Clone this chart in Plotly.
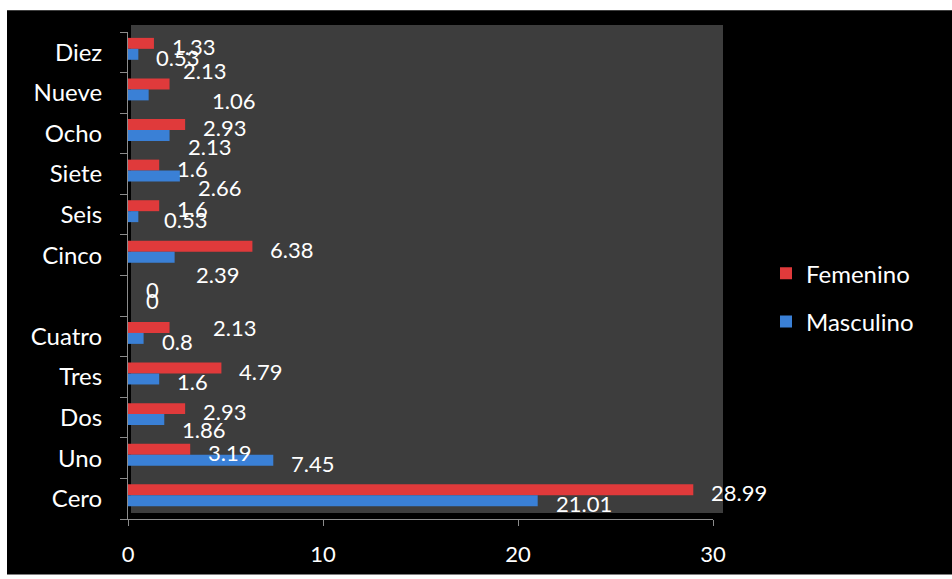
import plotly.graph_objects as go

# Categories listed bottom-to-top (empty slot between Cuatro and Cinco)
categories = ["Cero", "Uno", "Dos", "Tres", "Cuatro", " ", "Cinco",
              "Seis", "Siete", "Ocho", "Nueve", "Diez"]
femenino = [28.99, 3.19, 2.93, 4.79, 2.13, 0, 6.38, 1.6, 1.6, 2.93, 2.13, 1.33]
masculino = [21.01, 7.45, 1.86, 1.6, 0.8, 0, 2.39, 0.53, 2.66, 2.13, 1.06, 0.53]
x_ticks = [0, 10, 20, 30]

RED = "#e03a3b"
BLUE = "#3a80d6"
FONT = "Lato"
WORD_SIZE = 24
NUM_SIZE = 22
W, H = 952, 579
L, R, T, B = 128, 239, 32, 56
PW, PH = W - L - R, H - T - B


def px_x(x):
    return (x - L) / PW


def px_y(y):
    return (H - B - y) / PH


BAR_W = 0.27
series = [
    ("Femenino", femenino, RED, 0.085),
    ("Masculino", masculino, BLUE, -0.185),
]

fig = go.Figure()
for name, vals, color, off in series:
    fig.add_trace(go.Bar(
        name=name, y=categories, x=vals, orientation="h",
        width=BAR_W, offset=off, legendgroup=name,
        marker=dict(color=color, line=dict(width=0)),
    ))

# value labels sit just right of each bar end; a few are nudged aside
nudge = {
    ("Femenino", "Nueve"): (-5, 16),
    ("Masculino", "Nueve"): (45, -3),
    ("Masculino", "Ocho"): (0, -8),
    ("Masculino", "Siete"): (0, -8),
    ("Masculino", "Seis"): (8, 0),
    ("Masculino", "Cinco"): (3, -14),
    ("Femenino", "Cuatro"): (25, 3),
    ("Masculino", "Dos"): (0, -7),
}
annotations = []
for name, vals, color, off in series:
    for i, (cat, v) in enumerate(zip(categories, vals)):
        dx, dy = nudge.get((name, cat), (0, 0))
        annotations.append(dict(
            x=v, y=i + off + BAR_W / 2, xref="x", yref="y",
            text=f"{v:g}", showarrow=False, xanchor="left", yanchor="middle",
            xshift=16 + dx, yshift=-3 + dy,
            font=dict(family=FONT, size=NUM_SIZE, color="white"),
        ))

shapes = [
    # black chart area
    dict(type="rect", xref="paper", yref="paper", layer="below",
         x0=px_x(7), x1=px_x(W), y0=px_y(H), y1=px_y(10),
         fillcolor="black", line=dict(width=0)),
    # grey back wall
    dict(type="rect", xref="paper", yref="paper", layer="below",
         x0=px_x(131), x1=px_x(723), y0=px_y(517), y1=px_y(25),
         fillcolor="#3d3d3d", line=dict(width=0)),
]

fig.update_layout(
    width=W, height=H,
    margin=dict(l=L, r=R, t=T, b=B, pad=0),
    paper_bgcolor="white", plot_bgcolor="rgba(0,0,0,0)",
    barmode="overlay",
    font=dict(family=FONT, size=WORD_SIZE, color="white"),
    showlegend=True,
    legend=dict(
        x=px_x(766), y=px_y(253), xanchor="left", yanchor="top",
        traceorder="grouped", tracegroupgap=14,
        bgcolor="rgba(0,0,0,0)",
        font=dict(family=FONT, size=WORD_SIZE, color="white"),
    ),
    xaxis=dict(
        range=[0, 30], tickvals=x_ticks, showgrid=False, zeroline=False,
        showline=True, linecolor="#8c8c8c", linewidth=1,
        ticks="outside", ticklen=6, tickcolor="#8c8c8c",
        ticklabelstandoff=10,
        tickfont=dict(family=FONT, size=NUM_SIZE, color="white"),
    ),
    yaxis=dict(
        type="category", categoryorder="array", categoryarray=categories,
        range=[-0.5, len(categories) - 0.5],
        showgrid=False, zeroline=False,
        showline=True, linecolor="#8c8c8c", linewidth=1,
        ticks="outside", ticklen=7, tickcolor="#8c8c8c", tickson="boundaries",
        ticklabelstandoff=20,
        tickfont=dict(family=FONT, size=WORD_SIZE, color="white"),
    ),
    shapes=shapes,
    annotations=annotations,
)

fig.write_html("out.html")
